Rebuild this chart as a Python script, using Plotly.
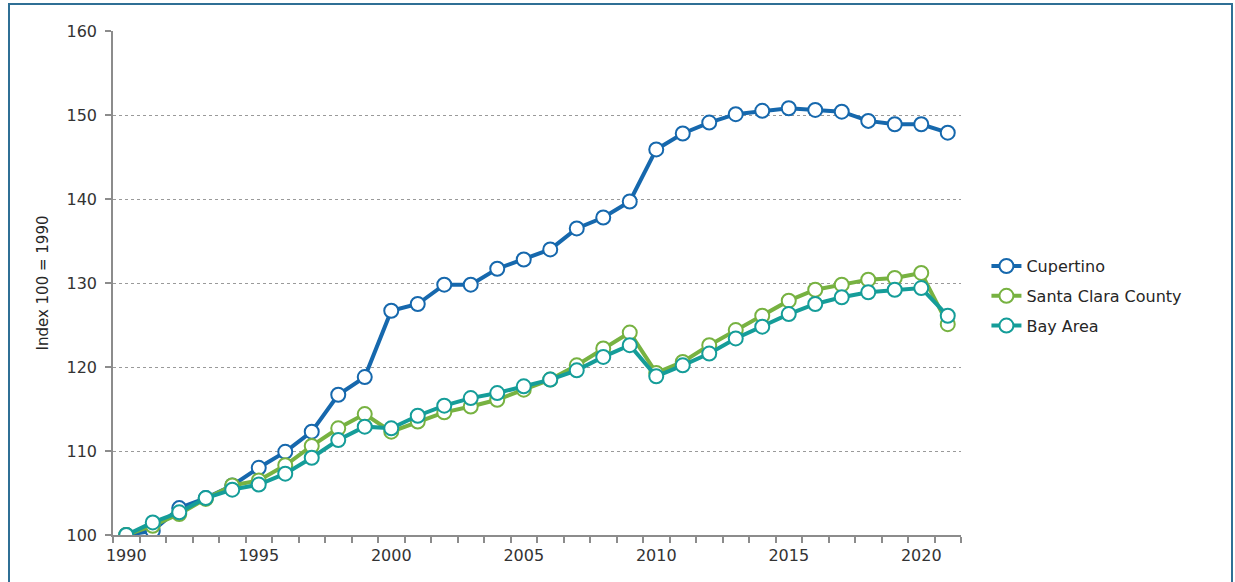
import plotly.graph_objects as go

years = list(range(1990, 2022))
cupertino = [100, 100.5, 103.2, 104.4, 105.9, 108.0, 109.9, 112.3, 116.7, 118.8,
             126.7, 127.5, 129.8, 129.8, 131.7, 132.8, 134.0, 136.5, 137.8, 139.7,
             145.9, 147.8, 149.1, 150.1, 150.5, 150.8, 150.6, 150.4, 149.3, 148.9,
             148.9, 147.9]
santa_clara = [100, 101.1, 102.5, 104.3, 105.9, 106.5, 108.3, 110.6, 112.7, 114.4,
               112.3, 113.5, 114.6, 115.3, 116.1, 117.3, 118.5, 120.2, 122.2, 124.1,
               119.3, 120.6, 122.6, 124.4, 126.1, 127.9, 129.2, 129.8, 130.4, 130.6,
               131.2, 125.1]
bay_area = [100, 101.5, 102.7, 104.4, 105.4, 106.0, 107.3, 109.2, 111.3, 112.9,
            112.7, 114.2, 115.4, 116.3, 116.9, 117.7, 118.5, 119.6, 121.2, 122.6,
            118.9, 120.2, 121.6, 123.4, 124.8, 126.3, 127.5, 128.3, 128.9, 129.2,
            129.4, 126.1]

series = [("Cupertino", cupertino, "#1668ad"),
          ("Santa Clara County", santa_clara, "#77b241"),
          ("Bay Area", bay_area, "#159d99")]

FONT = "DejaVu Sans"
fig = go.Figure()
for name, vals, col in series:
    fig.add_trace(go.Scatter(
        x=years, y=vals, name=name, mode="lines+markers", legendgroup=name,
        line=dict(color=col, width=4),
        marker=dict(symbol="circle", size=14, color="white",
                    line=dict(color=col, width=2)),
    ))

fig.update_layout(
    width=1235, height=582,
    margin=dict(l=113, r=274, t=31, b=47),
    paper_bgcolor="white", plot_bgcolor="white",
    font=dict(family=FONT, size=16, color="#333333"),
    showlegend=True,
    legend=dict(x=1.03, y=0.474, xanchor="left", yanchor="middle",
                font=dict(family=FONT, size=16, color="#262626"),
                bgcolor="rgba(0,0,0,0)", itemwidth=30, tracegroupgap=6),
)
fig.update_xaxes(
    range=[1989.5, 2021.5],
    tickmode="array", tickvals=[1990, 1995, 2000, 2005, 2010, 2015, 2020],
    ticktext=["1990", "1995", "2000", "2005", "2010", "2015", "2020"],
    ticks="", showgrid=False, zeroline=False, ticklabelstandoff=5,
    showline=True, linecolor="#8c8c8c", linewidth=1.5,
    tickfont=dict(family=FONT, size=16, color="#333333"),
    minor=dict(tickmode="linear", tick0=1989.5, dtick=1, ticks="outside",
               ticklen=6, tickcolor="#8c8c8c", tickwidth=1.5, showgrid=False),
)
fig.update_yaxes(
    range=[100, 160], tickmode="linear", tick0=100, dtick=10,
    ticks="outside", ticklen=6, tickcolor="#8c8c8c", tickwidth=1.5,
    ticklabelstandoff=5,
    showgrid=True, gridcolor="#9a9a9a", griddash="dot", gridwidth=1,
    zeroline=False, showline=True, linecolor="#8c8c8c", linewidth=1.5,
    tickfont=dict(family=FONT, size=16, color="#333333"),
    title=dict(text="Index 100 = 1990", font=dict(family=FONT, size=15, color="#262626"),
               standoff=14),
)
# outer frame
fig.add_shape(type="rect", xref="paper", yref="paper",
              x0=(9 - 113) / 848, x1=(1232 - 113) / 848,
              y0=(535 - 600) / 504, y1=(535 - 4) / 504,
              line=dict(color="#2f6f95", width=2), fillcolor="rgba(0,0,0,0)",
              layer="below")

fig.write_html("out.html", config={"displayModeBar": False},
               post_script="document.body.style.margin='0';document.body.style.overflow='hidden';")
